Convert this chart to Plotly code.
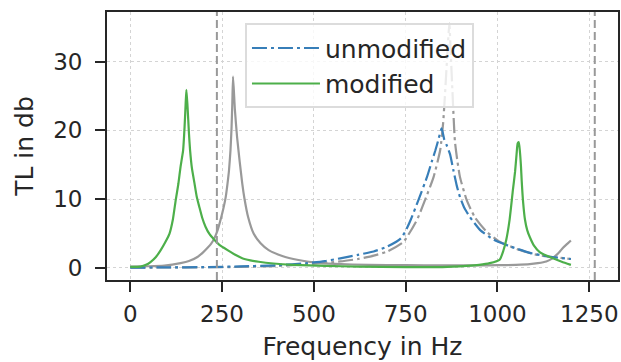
import plotly.graph_objects as go

# ---------------- data ----------------
mod_f = [0, 28, 43, 56, 70, 83, 95, 107, 116, 124, 131, 137, 144, 148, 151, 153, 156, 160, 163,
         168, 175, 181, 188, 196, 205, 216, 229, 242, 256, 274, 290, 305, 327, 350, 390, 441, 532,
         620, 750, 850, 916, 950, 979, 1006, 1016, 1024, 1033, 1042, 1048, 1052, 1055, 1058, 1061,
         1064, 1066, 1070, 1075, 1081, 1088, 1100, 1115, 1133, 1151, 1175, 1200]
mod_tl = [0.15, 0.2, 0.45, 0.9, 1.6, 2.6, 3.7, 5.0, 7.0, 9.9, 12.2, 14.7, 17.1, 20.5, 24.0, 25.9,
          23.5, 19.5, 17.1, 14.5, 12.3, 10.4, 8.9, 7.3, 6.0, 4.9, 4.1, 3.4, 2.9, 2.3, 1.8, 1.4, 1.1,
          0.9, 0.65, 0.45, 0.3, 0.2, 0.13, 0.12, 0.3, 0.45, 0.7, 1.2, 2.5, 4.1, 7.0, 11.3, 14.0,
          16.5, 18.1, 18.3, 17.0, 14.8, 12.7, 9.5, 7.0, 5.5, 4.5, 3.2, 2.3, 1.8, 1.4, 0.9, 0.45]

mod_ref_f = [0, 50, 93, 137, 160, 183, 197, 210, 220, 229, 238, 246, 253, 260, 265, 269, 273, 276,
             278, 280, 285, 291, 298, 305, 311, 321, 336, 355, 377, 414, 458, 504, 558, 650, 750,
             850, 950, 1000, 1050, 1088, 1110, 1133, 1150, 1161, 1170, 1178, 1190, 1200]
mod_ref_tl = [0.2, 0.25, 0.35, 0.7, 1.0, 1.6, 2.2, 2.9, 3.5, 4.3, 5.5, 7.0, 8.5, 10.3, 12.3, 14.2,
              17.1, 20.5, 24.0, 27.8, 23.0, 19.0, 15.5, 12.3, 10.1, 7.4, 5.0, 3.6, 2.6, 1.74,
              1.16, 0.77, 0.58, 0.45, 0.4, 0.38, 0.38, 0.4, 0.45, 0.55, 0.7, 0.95, 1.4, 1.9, 2.4,
              2.9, 3.5, 4.0]

unmod_f = [0, 100, 200, 300, 400, 482, 530, 572, 620, 663, 700, 737, 750, 763, 785, 808, 822, 831,
           840, 848, 855, 862, 871, 880, 889, 898, 910, 925, 953, 990, 1036, 1088, 1133, 1200]
unmod_tl = [0.05, 0.08, 0.12, 0.22, 0.4, 0.7, 1.0, 1.4, 1.9, 2.4, 3.1, 4.3, 5.4, 6.9, 9.9, 13.2,
            15.6, 17.1, 18.8, 20.3, 18.7, 17.8, 16.5, 14.2, 12.0, 10.3, 8.7, 7.4, 5.5, 4.1, 3.1,
            2.2, 1.7, 1.3]

unmod_ref_f = [0, 100, 200, 300, 400, 482, 572, 620, 663, 700, 744, 781, 803, 826, 844, 852, 858,
               864, 869, 873, 878, 884, 891, 898, 916, 938, 970, 1006, 1061, 1100, 1133, 1200]
unmod_ref_tl = [0.05, 0.07, 0.1, 0.15, 0.28, 0.55, 0.95, 1.3, 1.8, 2.4, 3.8, 7.0, 9.9, 13.2, 17.1,
                21.0, 26.0, 31.5, 35.5, 31.0, 25.0, 18.5, 15.5, 13.2, 9.9, 7.4, 5.3, 3.8, 2.6,
                2.0, 1.7, 1.3]

limit_f = [236, 1265]

x_ticks = [0, 250, 500, 750, 1000, 1250]
y_ticks = [0, 10, 20, 30]

# ---------------- styles ----------------
BLUE = "#377eb8"
GREEN = "#4daf4a"
GRAY = "#999999"
INK = "#262626"
DASHDOT = "15px,4px,3px,4px"
FONT = "DejaVu Sans"
SMOOTH = 0.5

fig = go.Figure()

fig.add_trace(go.Scatter(x=unmod_ref_f, y=unmod_ref_tl, mode="lines", showlegend=False,
                         line=dict(color=GRAY, width=2.2, dash=DASHDOT, shape="spline",
                                   smoothing=SMOOTH)))
fig.add_trace(go.Scatter(x=mod_ref_f, y=mod_ref_tl, mode="lines", showlegend=False,
                         line=dict(color=GRAY, width=2.2, shape="spline", smoothing=SMOOTH)))
fig.add_trace(go.Scatter(x=unmod_f, y=unmod_tl, mode="lines", name="unmodified",
                         line=dict(color=BLUE, width=2.2, dash=DASHDOT, shape="spline",
                                   smoothing=SMOOTH)))
fig.add_trace(go.Scatter(x=mod_f, y=mod_tl, mode="lines", name="modified",
                         line=dict(color=GREEN, width=2.2, shape="spline", smoothing=SMOOTH)))

for f in limit_f:
    fig.add_vline(x=f, line=dict(color=GRAY, width=2, dash="8px,4px"))

axis_common = dict(
    showline=True, linecolor=INK, linewidth=1.8, mirror=True,
    ticks="outside", ticklen=10, tickwidth=2, tickcolor=INK,
    showgrid=True, gridcolor="#d4d4d4", gridwidth=1, griddash="dot",
    zeroline=False, automargin=False,
    tickfont=dict(family=FONT, size=23, color=INK),
)

fig.update_layout(
    width=621, height=362,
    margin=dict(l=107, r=3, t=12, b=82),
    paper_bgcolor="white", plot_bgcolor="white",
    font=dict(family=FONT, color=INK),
    xaxis=dict(range=[-63.25, 1328.25], tickvals=x_ticks, ticklabelstandoff=2,
               title=dict(text="Frequency in Hz", font=dict(family=FONT, size=25, color=INK),
                          standoff=12),
               **axis_common),
    yaxis=dict(range=[-1.75, 37.2], tickvals=y_ticks, ticklabelstandoff=8,
               title=dict(text="TL in db", font=dict(family=FONT, size=25, color=INK),
                          standoff=12),
               **axis_common),
    legend=dict(x=0.27, y=0.958, xanchor="left", yanchor="top", itemwidth=68,
                bgcolor="rgba(255,255,255,0.8)", bordercolor="#dcdcdc", borderwidth=2,
                font=dict(family=FONT, size=25, color=INK)),
)

fig.write_html("out.html", config={"displayModeBar": False},
               post_script="document.body.style.margin='0';document.body.style.overflow='hidden';")
